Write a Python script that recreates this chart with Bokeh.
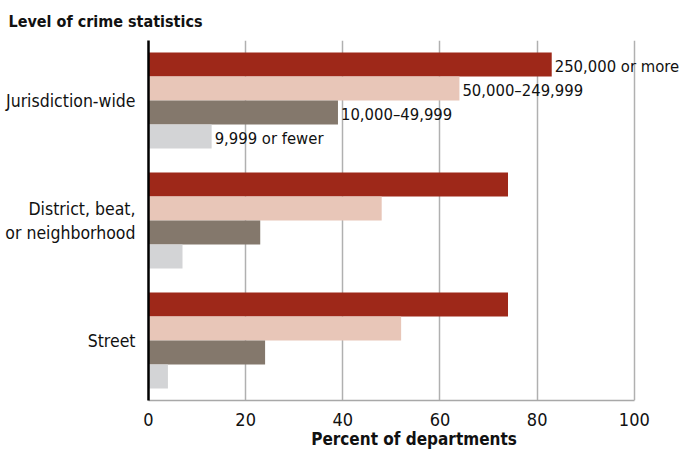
from bokeh.plotting import figure
from bokeh.models import ColumnDataSource, FactorRange, Range1d, FixedTicker, LabelSet
from bokeh.core.properties import value
from bokeh.transform import dodge
from bokeh.embed import file_html
from bokeh.resources import INLINE

# Crime statistics level (top to bottom) and department-size groups
levels = ["Jurisdiction-wide", "District, beat,\nor neighborhood", "Street"]
size_groups = ["250,000 or more", "50,000\u2013249,999", "10,000\u201349,999", "9,999 or fewer"]

# Percent of departments, one list per department-size group
pct_250k_plus = [83, 74, 74]
pct_50k_250k = [64, 48, 52]
pct_10k_50k = [39, 23, 24]
pct_under_10k = [13, 7, 4]

x_ticks = [0, 20, 40, 60, 80, 100]

FONT = "DejaVu Sans Condensed"
colors = ["#9e2819", "#e8c6b8", "#84786c", "#d3d4d6"]
series = [pct_250k_plus, pct_50k_250k, pct_10k_50k, pct_under_10k]
offsets = [0.3, 0.1, -0.1, -0.3]

source = ColumnDataSource(dict(
    level=levels,
    g0=pct_250k_plus,
    g1=pct_50k_250k,
    g2=pct_10k_50k,
    g3=pct_under_10k,
))

# x range runs a little past 100 so the bar-end labels have room;
# the axis line and grid stop at 100
p = figure(
    width=679, height=451,
    y_range=FactorRange(factors=list(reversed(levels))),
    x_range=Range1d(0, 109.3),
    output_backend="svg", toolbar_location=None,
    min_border_left=148, min_border_right=0,
    min_border_top=0, min_border_bottom=0,
)

for i, (col, off) in enumerate(zip(colors, offsets)):
    p.hbar(y=dodge("level", off, range=p.y_range), right=f"g{i}", left=0,
           height=0.2, source=source, fill_color=col, line_color=None)

# Size-group labels at the ends of the top group's bars
top = levels[0]
for i, off in enumerate(offsets):
    one = ColumnDataSource(dict(x=[series[i][0]], level=[top], text=[size_groups[i]]))
    p.add_layout(LabelSet(
        x="x", y=dodge("level", off, range=p.y_range), text="text", source=one,
        x_offset=3, y_offset=-2, text_baseline="middle", text_align="left",
        text_font=value(FONT), text_font_size=value("16.5px"), text_color="#111111",
    ))

# Title in the upper-left corner
p.title.text = "Level of crime statistics"
p.title.align = "left"
p.title.offset = -140
p.title.standoff = 19
p.title.text_font = FONT
p.title.text_font_size = "16px"
p.title.text_font_style = "bold"
p.title.text_color = "#111111"

# X axis
p.xaxis.ticker = FixedTicker(ticks=x_ticks)
p.xaxis.bounds = (0, 100)
p.xaxis.axis_label = "Percent of departments"
p.xaxis.axis_label_text_font = FONT
p.xaxis.axis_label_text_font_size = "17px"
p.xaxis.axis_label_text_font_style = "bold"
p.xaxis.axis_label_text_color = "#111111"
p.xaxis.axis_label_standoff = 0
p.xaxis.major_label_text_font = FONT
p.xaxis.major_label_text_font_size = "18px"
p.xaxis.major_label_text_color = "#111111"
p.xaxis.major_label_standoff = 6
p.xaxis.major_tick_line_color = None
p.xaxis.minor_tick_line_color = None
p.xaxis.axis_line_color = "#a8a8a8"
p.xaxis.axis_line_width = 1.5

# Y axis
p.yaxis.axis_line_color = "#000000"
p.yaxis.axis_line_width = 2.5
p.yaxis.major_tick_line_color = None
p.yaxis.minor_tick_line_color = None
p.yaxis.major_label_text_font = FONT
p.yaxis.major_label_text_font_size = "17.5px"
p.yaxis.major_label_text_color = "#111111"
p.yaxis.major_label_standoff = 7

p.xgrid.grid_line_color = "#b0b0b0"
p.xgrid.grid_line_width = 1.5
p.xgrid.bounds = (0, 100)
p.ygrid.grid_line_color = None
p.outline_line_color = None
p.background_fill_color = "white"
p.border_fill_color = "white"

open("out.html", "w").write(file_html(p, INLINE))
